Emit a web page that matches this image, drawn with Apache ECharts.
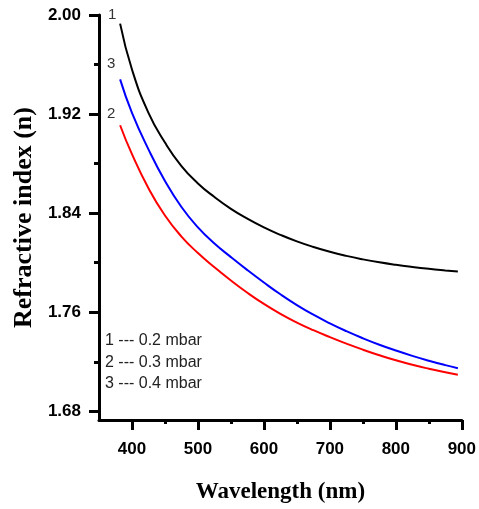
<!DOCTYPE html>
<html>
<head>
<meta charset="utf-8">
<script src="https://cdn.jsdelivr.net/npm/echarts@6/dist/echarts.min.js"></script>
<style>
  html, body { margin: 0; padding: 0; background: #fff; }
  #chart { width: 479px; height: 509px; }
</style>
</head>
<body>
<div id="chart"></div>
<script>
// wavelength sample points (nm)
const wavelength = [382, 400, 425, 450, 475, 500, 525, 550, 575, 600, 625, 650, 675, 700, 725, 750, 775, 800, 825, 850, 875, 894];
// curve 1 --- 0.2 mbar (black)
const n02 = [1.993, 1.956, 1.921, 1.897, 1.878, 1.864, 1.853, 1.8435, 1.8355, 1.8285, 1.8225, 1.8172, 1.8127, 1.8088, 1.8055, 1.8027, 1.8003, 1.7983, 1.7966, 1.7951, 1.7938, 1.7929];
// curve 2 --- 0.3 mbar (red)
const n03 = [1.911, 1.8876, 1.8601, 1.8381, 1.8211, 1.8078, 1.7963, 1.7856, 1.7757, 1.7667, 1.7587, 1.7517, 1.7455, 1.7399, 1.7347, 1.7298, 1.7253, 1.7212, 1.7176, 1.7144, 1.7115, 1.7095];
// curve 3 --- 0.4 mbar (blue)
const n04 = [1.948, 1.921, 1.8915, 1.866, 1.845, 1.8285, 1.8155, 1.8045, 1.794, 1.784, 1.7745, 1.7658, 1.758, 1.751, 1.7447, 1.739, 1.7338, 1.7291, 1.7248, 1.7209, 1.7173, 1.7148];

const xMajor = [400, 500, 600, 700, 800, 900];
const xMinor = [450, 550, 650, 750, 850];
const yMajor = [1.68, 1.76, 1.84, 1.92, 2.00];
const yMinor = [1.72, 1.80, 1.88, 1.96];
const legendLines = ['1 --- 0.2 mbar', '2 --- 0.3 mbar', '3 --- 0.4 mbar'];

const pairs = ys => wavelength.map((x, i) => [x, ys[i]]);

let myChart = echarts.init(document.getElementById('chart'));

const axisFont = { color: '#000', fontFamily: 'Arial', fontWeight: 'bold', fontSize: 17 };
const titleFont = { color: '#000', fontFamily: 'Times New Roman', fontWeight: 'bold' };

let option = {
  animation: false,
  grid: { left: 99, top: 15, right: 13, bottom: 89 },
  xAxis: [
    {
      type: 'value', min: 350, max: 900,
      name: 'Wavelength (nm)', nameLocation: 'middle', nameGap: 61,
      nameTextStyle: Object.assign({ fontSize: 23 }, titleFont),
      axisLine: { show: true, lineStyle: { color: '#000', width: 3 } },
      axisTick: { show: true, customValues: xMajor, length: 10, lineStyle: { color: '#000', width: 3 } },
      axisLabel: Object.assign({ customValues: xMajor, margin: 21 }, axisFont),
      splitLine: { show: false }
    },
    {
      // minor ticks only
      type: 'value', min: 350, max: 900, position: 'bottom',
      axisLine: { show: false },
      axisTick: { show: true, customValues: xMinor, length: 4, lineStyle: { color: '#000', width: 3 } },
      axisLabel: { show: false },
      splitLine: { show: false }
    }
  ],
  yAxis: [
    {
      type: 'value', min: 1.673, max: 2.0,
      name: 'Refractive index (n)', nameLocation: 'middle', nameGap: 62,
      nameTextStyle: Object.assign({ fontSize: 26 }, titleFont),
      axisLine: { show: true, lineStyle: { color: '#000', width: 3 } },
      axisTick: { show: true, customValues: yMajor, length: 10, lineStyle: { color: '#000', width: 3 } },
      axisLabel: Object.assign({ customValues: yMajor, margin: 18, formatter: v => v.toFixed(2) }, axisFont),
      splitLine: { show: false }
    },
    {
      type: 'value', min: 1.673, max: 2.0, position: 'left',
      axisLine: { show: false },
      axisTick: { show: true, customValues: yMinor, length: 5, lineStyle: { color: '#000', width: 3 } },
      axisLabel: { show: false },
      splitLine: { show: false }
    }
  ],
  series: [
    { name: '0.2 mbar', type: 'line', smooth: true, symbol: 'none', data: pairs(n02),
      lineStyle: { color: '#000', width: 2 } },
    { name: '0.3 mbar', type: 'line', smooth: true, symbol: 'none', data: pairs(n03),
      lineStyle: { color: '#ff0000', width: 2 } },
    { name: '0.4 mbar', type: 'line', smooth: true, symbol: 'none', data: pairs(n04),
      lineStyle: { color: '#0000ff', width: 2 } }
  ],
  graphic: [
    // curve numbers near the start of each line
    { type: 'text', left: 108, top: 7, style: { text: '1', fontSize: 15, fontFamily: 'Arial', fill: '#333' } },
    { type: 'text', left: 107, top: 56, style: { text: '3', fontSize: 15, fontFamily: 'Arial', fill: '#333' } },
    { type: 'text', left: 107, top: 106, style: { text: '2', fontSize: 15, fontFamily: 'Arial', fill: '#333' } }
  ].concat(legendLines.map((t, i) => ({
    type: 'text', left: 105, top: 333 + i * 21.5,
    style: { text: t, fontSize: 16, fontFamily: 'Arial', fill: '#222' }
  })))
};

myChart.setOption(option);
</script>
</body>
</html>
